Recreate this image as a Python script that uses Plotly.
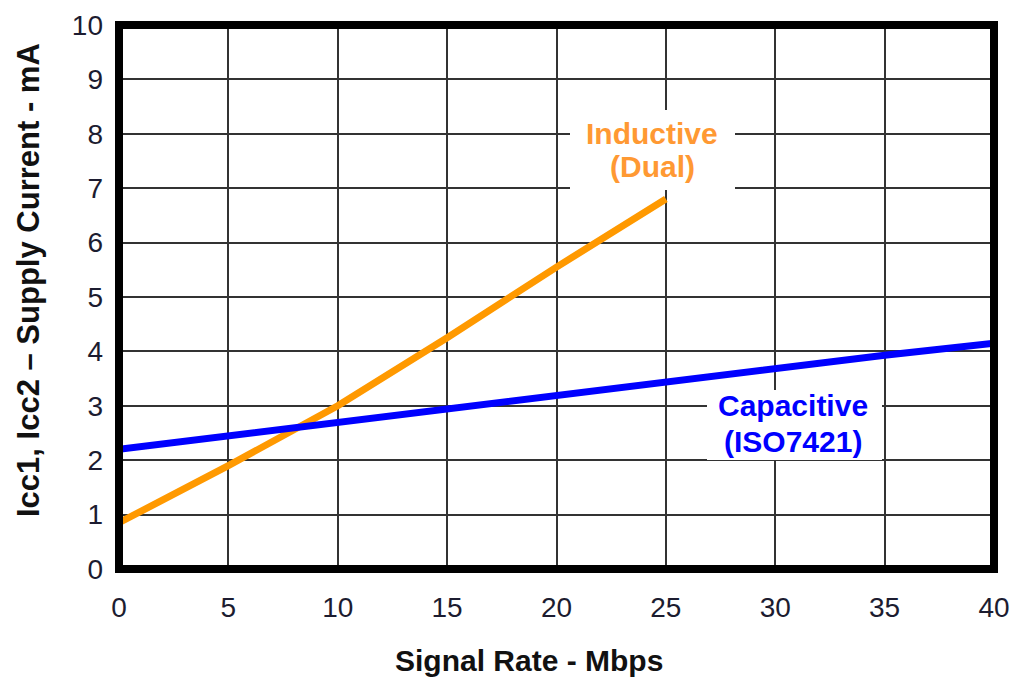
import plotly.graph_objects as go

# Data
ind_x = [0, 5, 10, 15, 20, 25]
ind_y = [0.85, 1.9, 3.0, 4.25, 5.55, 6.8]
cap_x = [0, 5, 10, 15, 20, 25, 30, 35, 40]
cap_y = [2.2, 2.45, 2.7, 2.95, 3.2, 3.45, 3.7, 3.93, 4.15]
x_ticks = [0, 5, 10, 15, 20, 25, 30, 35, 40]
y_ticks = [0, 1, 2, 3, 4, 5, 6, 7, 8, 9, 10]

FONT = "Liberation Sans, Arial, sans-serif"
ORANGE = "#FF9900"
BLUE = "#0000FF"
TICKC = "#1c1c30"

W, H = 1013, 679
# plot area in window pixels: x 119..994, y 25..569
L, R, T, B = 119, 1013 - 994, 25, 679 - 569
PW, PH = W - L - R, H - T - B


def px(xp):
    return (xp - L) / PW


def py(yp):
    return (H - B - yp) / PH


fig = go.Figure()
fig.add_trace(go.Scatter(x=ind_x, y=ind_y, mode="lines",
                         line=dict(color=ORANGE, width=7), showlegend=False))
fig.add_trace(go.Scatter(x=cap_x, y=cap_y, mode="lines",
                         line=dict(color=BLUE, width=7), showlegend=False))

fig.update_layout(
    width=W, height=H,
    margin=dict(l=L, r=R, t=T, b=B, autoexpand=False),
    paper_bgcolor="white", plot_bgcolor="white",
    font=dict(family=FONT, size=28, color=TICKC),
    xaxis=dict(range=[0, 40], tickvals=x_ticks, showgrid=True,
               gridcolor="#333333", gridwidth=2, zeroline=False,
               showline=False, ticks="", ticklabelstandoff=19,
               automargin=False, tickfont=dict(size=28, color=TICKC)),
    yaxis=dict(range=[0, 10], tickvals=y_ticks, showgrid=True,
               gridcolor="#333333", gridwidth=2, zeroline=False,
               showline=False, ticks="", ticklabelstandoff=15,
               automargin=False, tickfont=dict(size=28, color=TICKC)),
)

# thick frame
fig.add_shape(type="rect", xref="paper", yref="paper", x0=0, y0=0, x1=1, y1=1,
              line=dict(color="black", width=8), layer="above")

# white boxes behind the series labels
fig.add_shape(type="rect", xref="paper", yref="paper",
              x0=px(570), x1=px(735), y0=py(190), y1=py(110),
              fillcolor="white", line=dict(width=0), layer="above")
fig.add_shape(type="rect", xref="paper", yref="paper",
              x0=px(707), x1=px(882), y0=py(460), y1=py(390),
              fillcolor="white", line=dict(width=0), layer="above")


def label(text, xc, yc, color, size=30, yanchor="middle"):
    fig.add_annotation(text=text, showarrow=False, xref="paper", yref="paper",
                       x=px(xc), y=py(yc), xanchor="center", yanchor=yanchor,
                       font=dict(family=FONT, size=size, color=color,
                                 weight="bold"))


label("Inductive", 652, 134, "#FF9933")
label("(Dual)", 652, 167, "#FF9933")
label("Capacitive", 793, 405, BLUE)
label("(ISO7421)", 793, 441, BLUE)

# axis titles
label("Signal Rate - Mbps", 529, 679, "#111111", yanchor="bottom")
fig.add_annotation(text="Icc1, Icc2 – Supply Current - mA", showarrow=False,
                   textangle=-90, xref="paper", yref="paper",
                   x=px(28), y=py(280), xanchor="center", yanchor="middle",
                   font=dict(family=FONT, size=31, color="#111111", weight="bold"))

fig.write_html("out.html", config={"displayModeBar": False},
               post_script="document.body.style.margin='0';")
